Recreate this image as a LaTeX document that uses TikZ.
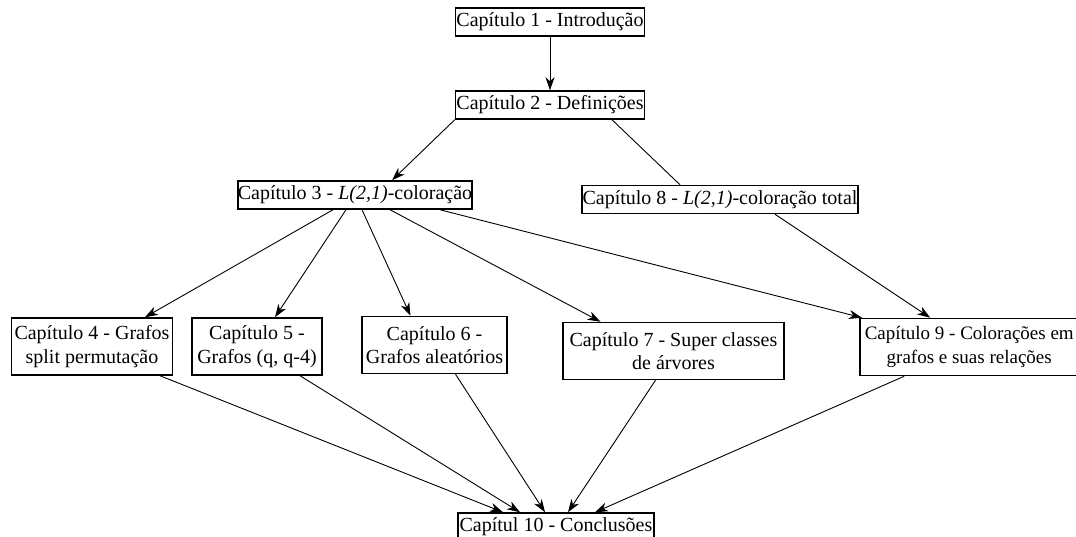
\documentclass[tikz,border=0pt]{standalone}
\usepackage{fontspec}
\setmainfont{Liberation Serif}
\usetikzlibrary{arrows.meta}
\begin{document}
\begin{tikzpicture}[x=1pt,y=-1pt,
  chap/.style={draw, line width=1.5pt, fill=white, align=center, inner sep=0pt,
    font=\fontsize{20}{23.5}\selectfont, minimum height=28pt},
  chaptwo/.style={chap, minimum height=57pt},
  link/.style={line width=0.9pt},
  arr/.style={link, -{Stealth[length=13pt,width=9pt,inset=4pt]}}]
\useasboundingbox[fill=white] (0,0) rectangle (1076,537);

% chapters
\node[chap, minimum width=189pt] (n1) at (550,22) {Capítulo 1 - Introdução};
\node[chap, minimum width=189pt] (n2) at (550,105) {Capítulo 2 - Definições};
\node[chap, minimum width=232pt] (n3) at (355,195) {Capítulo 3 - \textit{L(2,1)}-coloração};
\node[chap, minimum width=276pt] (n8) at (720,199.5) {Capítulo 8 - \textit{L(2,1)}-coloração total};
\node[chaptwo, minimum width=161pt] (n4) at (92,346.5) {Capítulo 4 - Grafos\\split permutação};
\node[chaptwo, minimum width=130pt] (n5) at (257,346.5) {Capítulo 5 -\\Grafos (q, q-4)};
\node[chaptwo, minimum width=145pt] (n6) at (434.5,345) {Capítulo 6 -\\Grafos aleatórios};
\node[chaptwo, minimum width=221pt] (n7) at (673.5,351) {Capítulo 7 - Super classes\\de árvores};
\node[chaptwo, inner xsep=5pt, font=\fontsize{19}{23.5}\selectfont, anchor=west] (n9) at (859,347)
  {Capítulo 9 - Colorações em\\grafos e suas relações};
\node[chap, minimum width=196pt] (n10) at (556,527) {Capítul 10 - Conclusões};

% dependencies
\draw[arr] (n1) -- (n2);
\draw[arr] (n2.south west) -- ([xshift=37pt]n3.north);
\draw[link] ([xshift=62pt]n2.south) -- ([xshift=-40pt]n8.north);
\draw[arr] ([xshift=55pt]n8.south) -- ([xshift=-39pt]n9.north);
\draw[arr] ([xshift=-22pt]n3.south) -- ([xshift=53pt]n4.north);
\draw[arr] ([xshift=-9pt]n3.south) -- ([xshift=18pt]n5.north);
\draw[arr] ([xshift=7pt]n3.south) -- ([xshift=-24pt]n6.north);
\draw[arr] ([xshift=35pt]n3.south) -- ([xshift=-73pt]n7.north);
\draw[arr] ([xshift=85pt]n3.south) -- ([xshift=3pt]n9.north west);
\draw[arr] ([xshift=68pt]n4.south) -- ([xshift=-53pt]n10.north);
\draw[arr] ([xshift=43pt]n5.south) -- ([xshift=-36pt]n10.north);
\draw[arr] ([xshift=21pt]n6.south) -- ([xshift=-11pt]n10.north);
\draw[arr] ([xshift=-18pt]n7.south) -- ([xshift=12pt]n10.north);
\draw[arr] ([xshift=-65pt]n9.south) -- ([xshift=39pt]n10.north);
\end{tikzpicture}
\end{document}
